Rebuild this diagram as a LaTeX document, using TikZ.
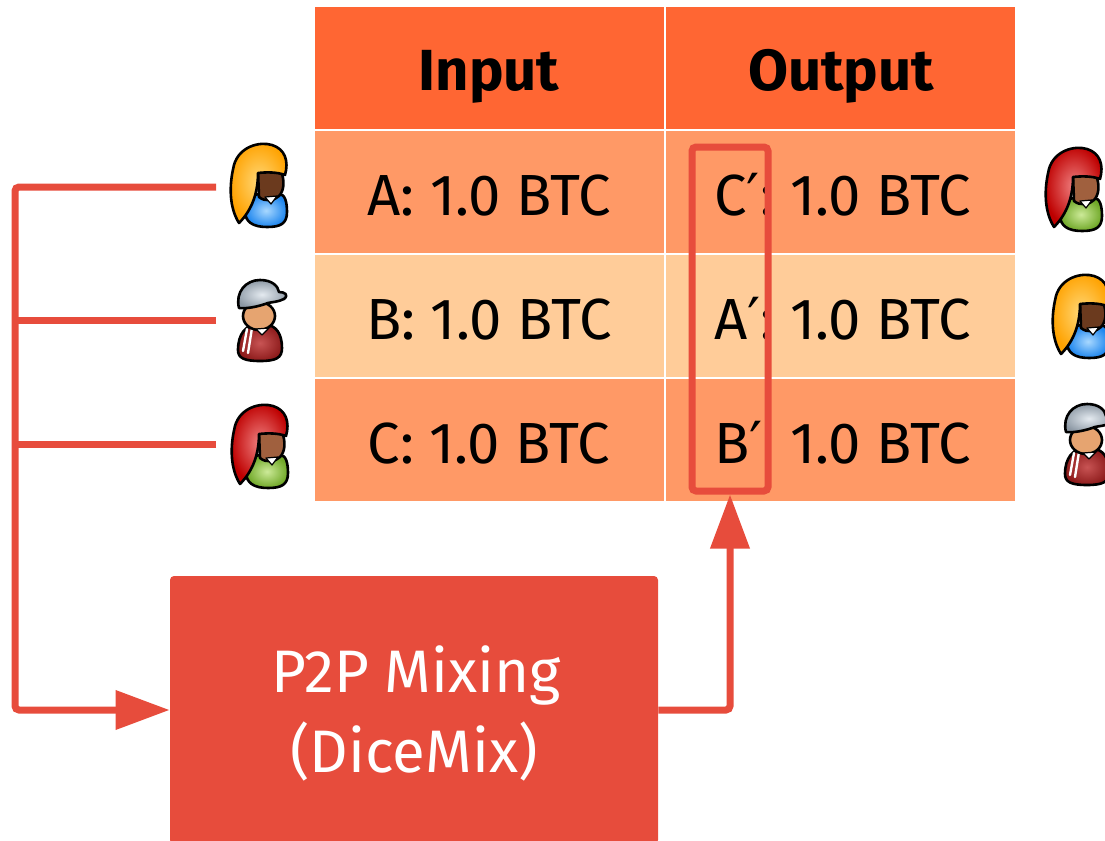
\documentclass[tikz,border=0pt]{standalone}
\usepackage{fontspec}
\setmainfont{Fira Sans}
\newfontfamily\primefont{DejaVu Sans}
\usetikzlibrary{arrows.meta}

\definecolor{hdr}{HTML}{FF6633}
\definecolor{rowA}{HTML}{FF9966}
\definecolor{rowB}{HTML}{FFCC99}
\definecolor{mixred}{HTML}{E74C3C}

\newcommand\pr{{\primefont ′}}

% person icons (local coordinates, y pointing down)
\newcommand\girlicon[6]{%
  \begin{scope}[shift={#1}, iconline]
    \draw[inner color=#5, outer color=#4]
      (-14,26) .. controls (-14,13) and (-6,9) .. (2,9) -- (20,9)
      .. controls (26,9) and (28,17) .. (28,27)
      .. controls (28,39) and (21,42) .. (8,42)
      .. controls (-6,42) and (-14,37) .. (-14,26) -- cycle;
    \draw[fill=#6]
      (-1,-14) -- (22,-14) .. controls (26,-4) and (25,6) .. (20,11)
      .. controls (15,16) and (6,17) .. (0,12) -- cycle;
    \draw[fill=white, line width=0.6pt] (6,12) -- (12,19) -- (18,11) -- cycle;
    \draw[inner color=#3, outer color=#2]
      (-20,38) .. controls (-30,22) and (-30,0) .. (-25,-20)
      .. controls (-20,-38) and (0,-44) .. (13,-40)
      .. controls (26,-36) and (30,-24) .. (26,-10)
      .. controls (18,-13) and (8,-13) .. (-1,-12)
      .. controls (-1,6) and (-6,24) .. (-20,38) -- cycle;
  \end{scope}}

\newcommand\boyicon[1]{%
  \begin{scope}[shift={#1}, iconline]
    \draw[inner color=bobshirtL, outer color=bobshirt]
      (-22,30) .. controls (-22,14) and (-14,5) .. (-4,5) -- (6,5)
      .. controls (16,5) and (22,14) .. (22,28)
      .. controls (22,38) and (16,41) .. (0,41)
      .. controls (-16,41) and (-22,38) .. (-22,30) -- cycle;
    \draw[white, line width=1.2pt, line cap=round] (-13,9) -- (-17,31);
    \draw[white, line width=1.2pt, line cap=round] (-8,8) -- (-12,33);
    \draw[fill=bobface] (-1,-4) ellipse [x radius=16, y radius=14];
    \draw[fill=white, line width=0.6pt] (-4,9) -- (2,15) -- (9,8) -- cycle;
    \draw[inner color=bobcapL, outer color=bobcap]
      (-21,-12) .. controls (-25,-28) and (-14,-40) .. (0,-40)
      .. controls (12,-40) and (18,-34) .. (19,-28)
      .. controls (25,-28) and (29,-25) .. (24,-21)
      .. controls (18,-18) and (12,-18) .. (8,-17)
      .. controls (0,-14) and (-12,-11) .. (-21,-12) -- cycle;
  \end{scope}}

\definecolor{alhair}{HTML}{FFA200}
\definecolor{alhairL}{HTML}{FFD878}
\definecolor{alshirt}{HTML}{1E86EE}
\definecolor{alshirtL}{HTML}{A8D8FF}
\definecolor{alface}{HTML}{6B3A1E}
\definecolor{cahair}{HTML}{BE0000}
\definecolor{cahairL}{HTML}{F08080}
\definecolor{cashirt}{HTML}{70A828}
\definecolor{cashirtL}{HTML}{CCEA98}
\definecolor{caface}{HTML}{A0603E}
\definecolor{bobcap}{HTML}{8C98A4}
\definecolor{bobcapL}{HTML}{E4EAF0}
\definecolor{bobshirt}{HTML}{8E1C1C}
\definecolor{bobshirtL}{HTML}{C85454}
\definecolor{bobface}{HTML}{E6A470}

\begin{document}
\begin{tikzpicture}[x=0.5pt, y=-0.5pt,
  iconline/.style={line width=1.3pt, line join=round, draw=black},
  conn/.style={draw=mixred, line width=3.5pt, rounded corners=2pt},
  tip/.style={-{Triangle[length=27pt, width=19pt]}},
  celltext/.style={inner sep=0pt, font=\fontsize{29}{35}\selectfont},
  hdrtext/.style={inner sep=0pt, font=\fontsize{29}{35}\selectfont\bfseries},
  mixtext/.style={inner sep=0pt, text=white, font=\fontsize{30}{36}\selectfont},
  mixbox/.style={fill=mixred, rounded corners=2pt, minimum width=244pt,
    minimum height=134pt, inner sep=0pt},
  selbox/.style={draw=mixred, line width=3.5pt, rounded corners=2pt,
    minimum width=38pt, minimum height=172pt, inner sep=0pt}]
\useasboundingbox (0,0) rectangle (1105,841);
\clip (0,0) rectangle (1105,841);

% table
\fill[hdr]  (315,7)   rectangle (1015,130);
\fill[rowA] (315,130) rectangle (1015,254);
\fill[rowB] (315,254) rectangle (1015,378);
\fill[rowA] (315,378) rectangle (1015,501);
\draw[white, line width=1pt] (665,7) -- (665,501)
  (315,130) -- (1015,130) (315,254) -- (1015,254) (315,378) -- (1015,378);

\node[hdrtext, anchor=base] (hIn)  at (489,90) {Input};
\node[hdrtext, anchor=base] (hOut) at (841,90) {Output};

\node[celltext, anchor=base] (inA) at (489,215) {A: 1.0 BTC};
\node[celltext, anchor=base] (inB) at (489,339) {B: 1.0 BTC};
\node[celltext, anchor=base] (inC) at (489,463) {C: 1.0 BTC};

\node[celltext, anchor=base west] (outCl) at (714,215) {C\pr:};
\node[celltext, anchor=base west] (outAl) at (714,339) {A\pr:};
\node[celltext, anchor=base west] (outBl) at (714,463) {B\pr};
\node[celltext, anchor=base west] (outCv) at (790,215) {1.0 BTC};
\node[celltext, anchor=base west] (outAv) at (790,339) {1.0 BTC};
\node[celltext, anchor=base west] (outBv) at (790,463) {1.0 BTC};

% shuffled output addresses
\node[selbox] (sel) at (730,319) {};

% mixing box
\node[mixbox] (mix) at (414,710) {};
\node[mixtext, anchor=base] (mixL1) at (416,692) {P2P Mixing};
\node[mixtext, anchor=base] (mixL2) at (414,772) {(DiceMix)};

% connectors
\coordinate (pA) at (216,187);
\coordinate (pB) at (216,320);
\coordinate (pC) at (216,444);
\coordinate (jA) at (15,187);
\coordinate (jB) at (15,320);
\coordinate (jC) at (15,444);
\draw[conn, tip] (pA) -- (jA) |- (mix.west);
\draw[conn] (pB) -- (jB);
\draw[conn] (pC) -- (jC);
\draw[conn, tip] (mix.east) -| (sel.south);

% participants
\girlicon{(259,185)}{alhair}{alhairL}{alshirt}{alshirtL}{alface}
\boyicon{(260,320)}
\girlicon{(260,446)}{cahair}{cahairL}{cashirt}{cashirtL}{caface}
\girlicon{(1074,189)}{cahair}{cahairL}{cashirt}{cashirtL}{caface}
\girlicon{(1081,316)}{alhair}{alhairL}{alshirt}{alshirtL}{alface}
\boyicon{(1087,444)}
\end{tikzpicture}
\end{document}
